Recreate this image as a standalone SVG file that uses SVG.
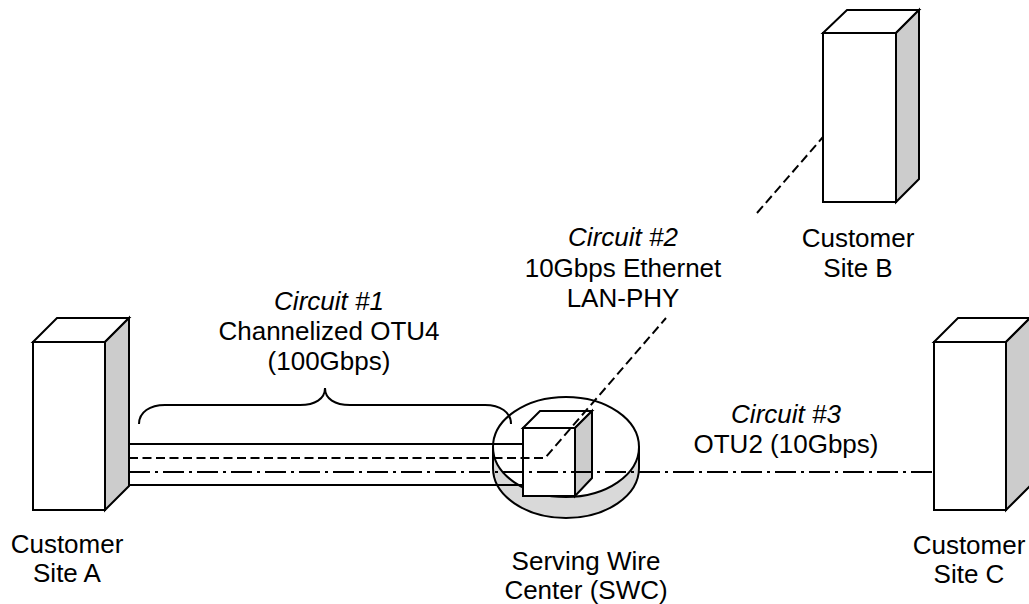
<svg xmlns="http://www.w3.org/2000/svg" width="1029" height="604" viewBox="0 0 1029 604">
<style>
  .face { fill: #ffffff; stroke: #000; stroke-width: 2; stroke-linejoin: miter; }
  .side { fill: #cccccc; stroke: #000; stroke-width: 2; stroke-linejoin: miter; }
  .disc { fill: #d9d9d9; stroke: #000; stroke-width: 2; }
  .solid { fill: none; stroke: #000; stroke-width: 2; }
  .dash { fill: none; stroke: #000; stroke-width: 2; stroke-dasharray: 9 4.5; }
  .dashdot { fill: none; stroke: #000; stroke-width: 2; stroke-dasharray: 21 5 3 5; }
  .brace { fill: none; stroke: #000; stroke-width: 2; }
  text { font-family: "Liberation Sans", Arial, sans-serif; font-size: 26px; fill: #000; text-anchor: middle; }
  .it { font-style: italic; }
</style>
<rect x="0" y="0" width="1029" height="604" fill="#ffffff"/>

<g id="site-a">
  <polygon class="face" points="33,342 57,318 129,318 105,342"/>
  <polygon class="side" points="105,342 129,318 129,486 105,510"/>
  <rect class="face" x="33" y="342" width="72" height="168"/>
  <text x="67" y="553">Customer</text>
  <text x="67" y="582">Site A</text>
</g>

<g id="site-b">
  <polygon class="face" points="823,33 847,10 919,10 896,33"/>
  <polygon class="side" points="896,33 919,10 919,179 896,202"/>
  <rect class="face" x="823" y="33" width="73" height="169"/>
  <text x="858" y="247">Customer</text>
  <text x="858" y="277">Site B</text>
</g>

<g id="site-c">
  <polygon class="face" points="934,342 958,318 1030,318 1006,342"/>
  <polygon class="side" points="1006,342 1030,318 1030,486 1006,510"/>
  <rect class="face" x="934" y="342" width="72" height="168"/>
  <text x="969" y="554">Customer</text>
  <text x="969" y="583">Site C</text>
</g>

<g id="swc">
  <path class="disc" d="M493,447 L493,468 A73,50 0 0 0 639,468 L639,447 Z"/>
  <ellipse class="face" cx="566" cy="447" rx="73" ry="50"/>
  <polygon class="face" points="523,428 540,411 592,411 575,428"/>
  <polygon class="side" points="575,428 592,411 592,478 575,496"/>
  <rect class="face" x="523" y="428" width="52" height="68"/>
  <text x="586" y="570">Serving Wire</text>
  <text x="586" y="599">Center (SWC)</text>
</g>

<g id="connectors">
  <line class="solid" x1="129" y1="444" x2="523" y2="444"/>
  <line class="solid" x1="129" y1="485" x2="523" y2="485"/>
  <polyline class="dash" points="129,458 545,458 666,318"/>
  <line class="dash" x1="757" y1="213" x2="823" y2="137"/>
  <line class="dashdot" x1="129" y1="472" x2="934" y2="472"/>
</g>

<g id="circuit-1">
  <path class="brace" d="M139,424 C139,412 150,405 165,405 L300,405 C315,405 325,399 325,388 C325,399 335,405 350,405 L485,405 C500,405 511,412 511,424"/>
  <text class="it" x="329" y="310">Circuit #1</text>
  <text x="329" y="340">Channelized OTU4</text>
  <text x="329" y="370">(100Gbps)</text>
</g>

<g id="circuit-2">
  <text class="it" x="623" y="246">Circuit #2</text>
  <text x="623" y="277">10Gbps Ethernet</text>
  <text x="623" y="307">LAN-PHY</text>
</g>

<g id="circuit-3">
  <text class="it" x="786" y="423">Circuit #3</text>
  <text x="786" y="453">OTU2 (10Gbps)</text>
</g>
</svg>
